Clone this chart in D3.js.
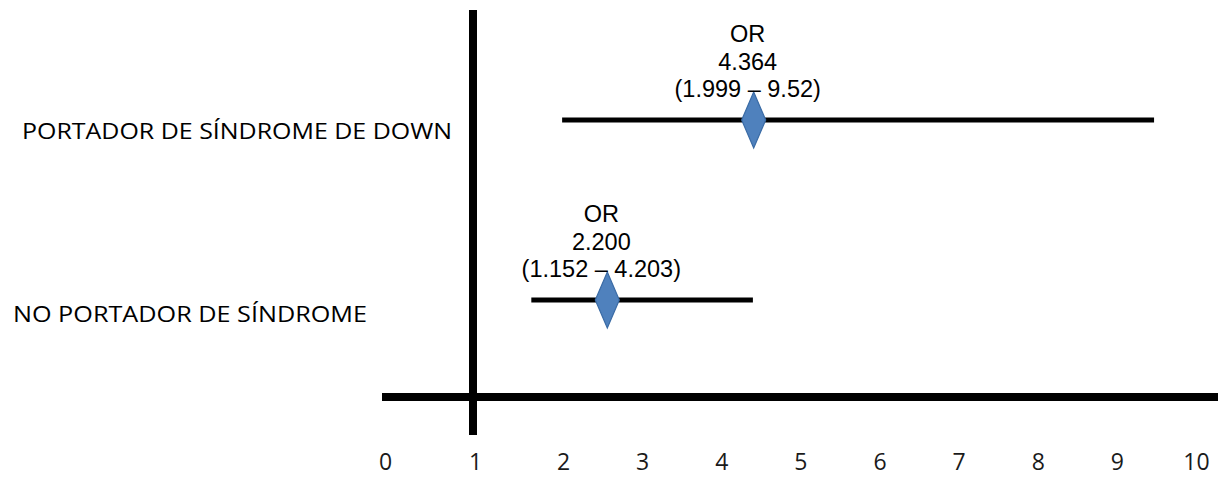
<!DOCTYPE html>
<html>
<head>
<meta charset="utf-8">
<script src="https://cdn.jsdelivr.net/npm/d3@7"></script>
<style>
  html, body { margin: 0; padding: 0; background: #ffffff; }
  svg { display: block; }
</style>
</head>
<body>
<svg id="chart" width="1227" height="477"></svg>
<script>
// ---- data ----
const categories = ["PORTADOR DE SÍNDROME DE DOWN", "NO PORTADOR DE SÍNDROME"];
// plotted positions as read against the drawn axis
const pointValues = [4.41, 2.56];
const lowerValues = [1.99, 1.64];
const upperValues = [9.47, 4.40];
// annotation texts
const orLabels = ["OR", "OR"];
const orValues = ["4.364", "2.200"];
const ciLabels = ["(1.999 – 9.52)", "(1.152 – 4.203)"];
const tickValues = [0, 1, 2, 3, 4, 5, 6, 7, 8, 9, 10];
const referenceValue = 1;

// ---- layout ----
const W = 1227, H = 477;
const svg = d3.select("#chart");
svg.append("rect").attr("width", W).attr("height", H).attr("fill", "#ffffff");

const x = d3.scaleLinear().domain([0, 1, 2, 10]).range([385, 475, 563, 1196]);
const y = d3.scalePoint().domain(categories).range([120, 300]);
const axisY = 397;
const catX = [22, 13];
const catW = [430, 354];

// horizontal axis line
svg.append("line")
  .attr("x1", x(0) - 3).attr("x2", x(10) + 22)
  .attr("y1", axisY).attr("y2", axisY)
  .attr("stroke", "#000").attr("stroke-width", 8);

// vertical reference line
svg.append("line")
  .attr("x1", x(referenceValue) - 2).attr("x2", x(referenceValue) - 2)
  .attr("y1", 10).attr("y2", 435)
  .attr("stroke", "#000").attr("stroke-width", 8);

// tick labels via axis
const axisG = svg.append("g")
  .attr("transform", `translate(0,470)`)
  .call(d3.axisBottom(x).tickValues(tickValues).tickSize(0).tickFormat(d3.format("d")));
axisG.select(".domain").remove();
axisG.selectAll("text")
  .attr("y", 0).attr("dy", null)
  .attr("font-family", "'Open Sans', sans-serif")
  .attr("font-size", 23)
  .attr("fill", "#1a1a1a");

const rows = categories.map((c, i) => ({
  cat: c, pt: pointValues[i], lo: lowerValues[i], hi: upperValues[i],
  or: orLabels[i], val: orValues[i], ci: ciLabels[i], lx: catX[i], lw: catW[i]
}));

// CI lines
svg.selectAll(".ci").data(rows).join("line")
  .attr("class", "ci")
  .attr("x1", d => x(d.lo)).attr("x2", d => x(d.hi))
  .attr("y1", d => y(d.cat)).attr("y2", d => y(d.cat))
  .attr("stroke", "#000").attr("stroke-width", 5);

// diamonds
const hw = 12, hh = 28;
svg.selectAll(".dia").data(rows).join("path")
  .attr("class", "dia")
  .attr("d", d => {
    const cx = x(d.pt), cy = y(d.cat);
    return `M${cx},${cy - hh}L${cx + hw},${cy}L${cx},${cy + hh}L${cx - hw},${cy}Z`;
  })
  .attr("fill", "#4f81bd").attr("stroke", "#3a6ba5").attr("stroke-width", 1.2);

// annotations
const ann = svg.selectAll(".ann").data(rows).join("text")
  .attr("class", "ann")
  .attr("font-family", "'Liberation Sans', Arial, sans-serif")
  .attr("font-size", 23.5)
  .attr("fill", "#000")
  .attr("text-anchor", "middle");
ann.each(function(d) {
  const t = d3.select(this);
  const cx = x(d.pt) - 6, base = y(d.cat) - 78;
  t.append("tspan").attr("x", cx).attr("y", base).text(d.or);
  t.append("tspan").attr("x", cx).attr("y", base + 27.5).text(d.val);
  t.append("tspan").attr("x", cx).attr("y", base + 55).text(d.ci);
});

// category labels
svg.selectAll(".cat").data(rows).join("text")
  .attr("class", "cat")
  .attr("x", d => d.lx)
  .attr("y", (d, i) => y(d.cat) + (i === 0 ? 19 : 22))
  .attr("font-family", "'Open Sans', sans-serif")
  .attr("font-size", 21.5)
  .attr("textLength", d => d.lw)
  .attr("lengthAdjust", "spacingAndGlyphs")
  .attr("fill", "#000")
  .text(d => d.cat);
</script>
</body>
</html>
